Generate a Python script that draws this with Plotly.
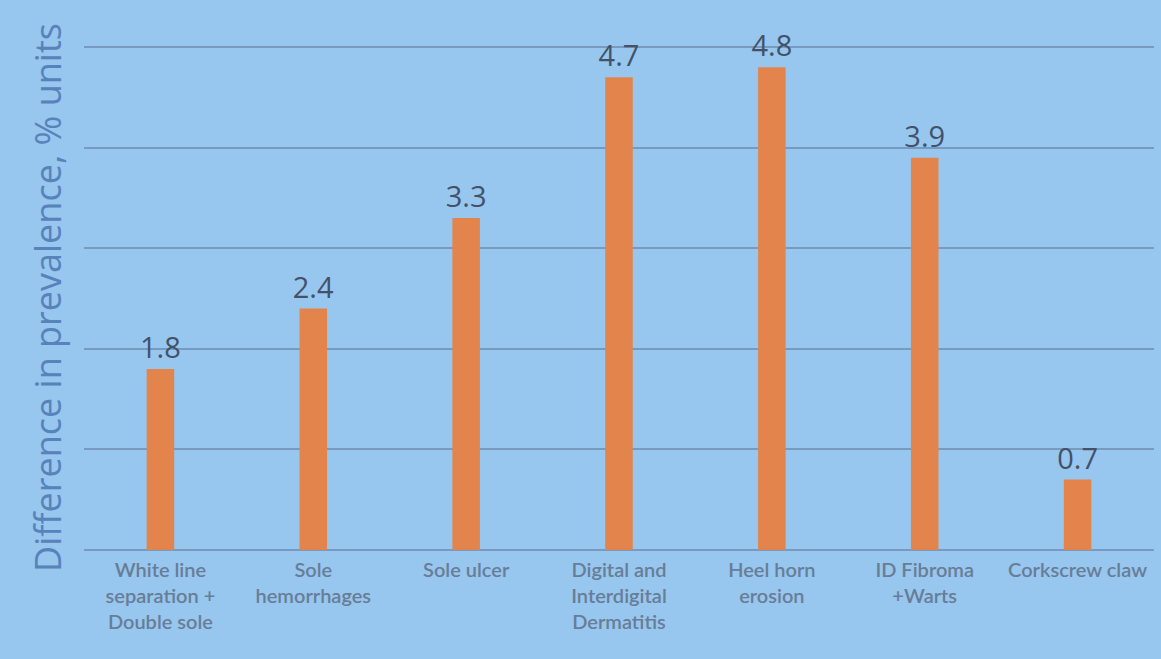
import plotly.graph_objects as go


# ==========================================================
# DATA
# ==========================================================

CATEGORIES = [
    "White line<br>separation +<br>Double sole",
    "Sole<br>hemorrhages",
    "Sole ulcer",
    "Digital and<br>Interdigital<br>Dermatitis",
    "Heel horn<br>erosion",
    "ID Fibroma<br>+Warts",
    "Corkscrew claw",
]

VALUES = [1.8, 2.4, 3.3, 4.7, 4.8, 3.9, 0.7]

LABELS = ["1.8", "2.4", "3.3", "4.7", "4.8", "3.9", "0.7"]


# ==========================================================
# THEME
# ==========================================================

BACKGROUND = "#97c6ef"

BAR = "#e2844c"

LABEL = "#435268"

TICK = "#687d96"

TITLE = "#5882ba"

GRID = "rgba(80,100,130,0.45)"


# ==========================================================
# FIGURE
# ==========================================================

fig = go.Figure(

    go.Bar(

        x=CATEGORIES,

        y=VALUES,

        text=LABELS,

        textposition="outside",

        constraintext="none",

        cliponaxis=False,

        width=0.18,

        marker=dict(

            color=BAR,

            line_width=0

        ),

        textfont=dict(

            size=29,

            color=LABEL,

            family="Open Sans"

        )

    )

)

fig.update_layout(

    paper_bgcolor=BACKGROUND,

    plot_bgcolor=BACKGROUND,

    showlegend=False,

    margin=dict(

        l=84,

        r=7,

        t=45,

        b=109

    ),

    font=dict(

        family="Lato",

        color=TICK

    )

)

fig.update_xaxes(

    showgrid=False,

    showline=False,

    ticks="",

    tickangle=0,

    ticklabelstandoff=6,

    tickfont=dict(

        size=20,

        color=TICK,

        family="Lato",

        weight=600

    )

)

fig.update_yaxes(

    range=[0, 5.02],

    dtick=1,

    showgrid=True,

    gridcolor=GRID,

    gridwidth=1.5,

    zeroline=True,

    zerolinecolor=GRID,

    zerolinewidth=1.5,

    showticklabels=False,

    title=dict(

        text="Difference in prevalence, % units",

        standoff=10,

        font=dict(

            size=36,

            color=TITLE,

            family="Open Sans"

        )

    )

)

# full window, no white page border

fig.write_html(

    "out.html",

    config={"displayModeBar": False},

    default_width="100vw",

    default_height="100vh",

    post_script="document.body.style.margin='0';"
                "Plotly.Plots.resize(document.getElementById('{plot_id}'));"

)
